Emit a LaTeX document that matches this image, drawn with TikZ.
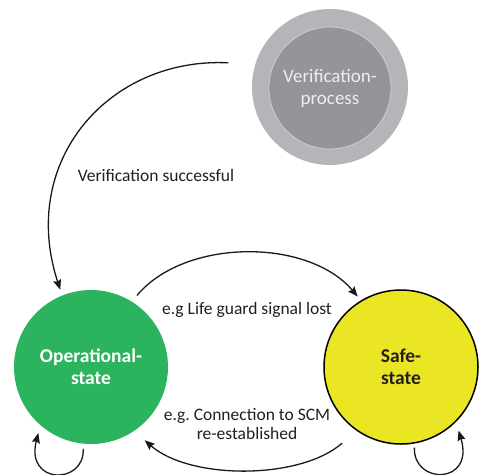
\documentclass[tikz,border=0pt]{standalone}
\usepackage{fontspec}
\setmainfont{Carlito}
\usetikzlibrary{arrows.meta}
\frenchspacing
\definecolor{opgreen}{RGB}{43,179,94}
\definecolor{safeyellow}{RGB}{235,230,35}
\definecolor{gouter}{RGB}{180,181,184}
\definecolor{ginner}{RGB}{147,149,152}
\definecolor{gline}{RGB}{205,206,208}
\definecolor{gtext}{RGB}{238,238,238}
\definecolor{lbltext}{RGB}{35,31,32}
\begin{document}
\begin{tikzpicture}[x=1pt,y=-1pt,
  state/.style={circle, minimum size=154pt, inner sep=0pt, align=center,
    font=\fontsize{19.5}{22}\selectfont\bfseries},
  arr/.style={-{Stealth[length=10pt,width=8pt,inset=1.5pt]}, line width=1.3pt, draw=black!90},
  lbl/.style={font=\fontsize{17.5}{19}\selectfont, text=lbltext, align=center}]
\useasboundingbox (0,0) rectangle (481,474);
% Verification process
\node[circle, fill=gouter, minimum size=156pt, inner sep=0pt] (vpo) at (330,87) {};
\node[circle, fill=ginner, draw=gline, line width=0.8pt, minimum size=122pt, inner sep=0pt,
  align=center, text=gtext, font=\fontsize{19}{22}\selectfont] (vp) at (330,88) {Verification-\\process};
% States
\node[state, fill=opgreen, text=white] (op) at (91,367) {Operational-\\state};
\node[state, fill=safeyellow, draw=black, line width=1.5pt, text=lbltext] (safe) at (401,367) {Safe-\\state};
% Connectors
\draw[arr, shorten <=27pt, shorten >=6pt] (vpo.163) .. controls (110,57) and (18,160) .. (op.112);
\draw[arr, shorten <=8pt, shorten >=5pt] (op.58) .. controls (185,238) and (308,238) .. (safe.121);
\draw[arr, shorten <=19pt, shorten >=14pt] (safe.235) .. controls (300,480) and (190,480) .. (op.304);
\draw[arr, shorten <=5pt, shorten >=8pt] (op.264) .. controls (85,485) and (25,485) .. (op.229);
\draw[arr, shorten <=4pt, shorten >=9pt] (safe.280) .. controls (413,485) and (475,485) .. (safe.315);
% Labels
\node[lbl] (l1) at (156,175) {Verification successful};
\node[lbl] (l2) at (247,310) {e.g Life guard signal lost};
\node[lbl] (l3) at (247,424) {e.g. Connection to SCM\\re-established};
\end{tikzpicture}
\end{document}
